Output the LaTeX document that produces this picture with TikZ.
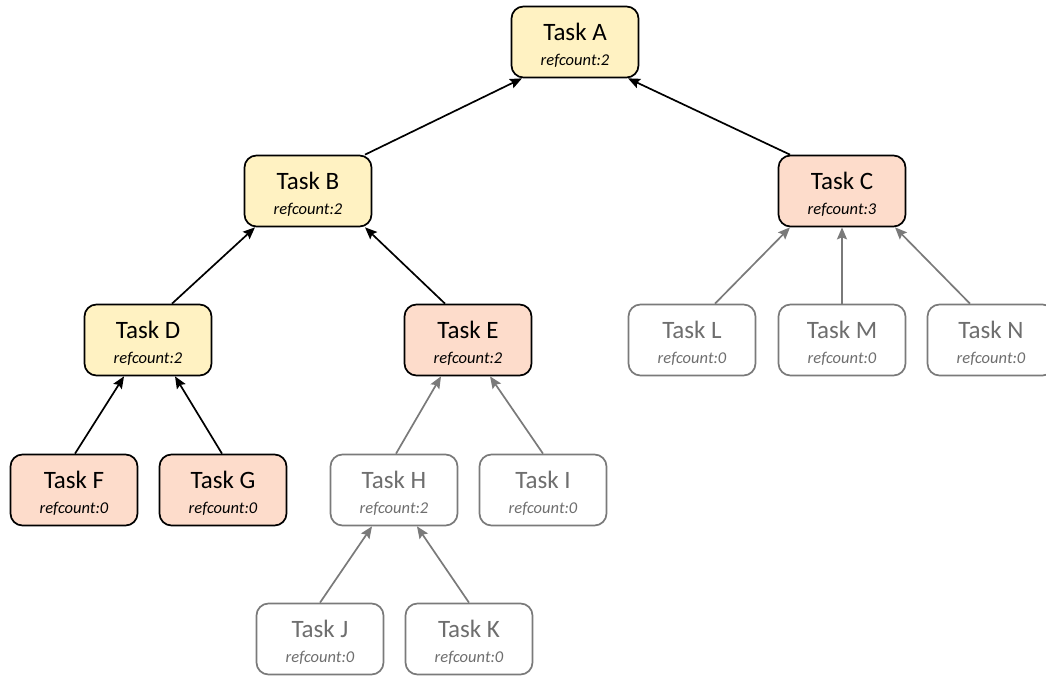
\documentclass[tikz,border=0pt]{standalone}
\usepackage{fontspec}
\setmainfont{Carlito}
\usetikzlibrary{arrows.meta,calc}
\definecolor{readyfill}{HTML}{FFF2C2}
\definecolor{waitfill}{HTML}{FDDCCB}
\definecolor{idleline}{HTML}{7A7A7A}
\definecolor{idletext}{HTML}{6E6E6E}
\tikzset{
  task/.style={rectangle, rounded corners=12pt, line width=1.7pt, draw=black,
    minimum width=127pt, minimum height=71pt, align=center, inner sep=0pt,
    font=\fontsize{25}{25}\selectfont},
  ready/.style={task, fill=readyfill},
  waiting/.style={task, fill=waitfill},
  idle/.style={task, fill=white, draw=idleline, text=idletext},
  dep/.style={line width=1.7pt, -{Stealth[length=12pt,width=10pt,inset=2pt]}},
  idledep/.style={dep, draw=idleline, fill=idleline},
}
% two-line label: task name over its reference count
\newcommand{\tasklabel}[2]{\rule{0pt}{23pt}Task #1\\{\fontsize{16.5}{25}\selectfont\itshape refcount:#2}}
\begin{document}
\begin{tikzpicture}[x=1pt,y=-1pt]
\useasboundingbox (0,0) rectangle (1046,679);
% tasks
\node[ready]   (a) at (575,42)  {\tasklabel{A}{2}};
\node[ready]   (b) at (308,191) {\tasklabel{B}{2}};
\node[waiting] (c) at (842,191) {\tasklabel{C}{3}};
\node[ready]   (d) at (148,340) {\tasklabel{D}{2}};
\node[waiting] (e) at (468,340) {\tasklabel{E}{2}};
\node[idle]    (l) at (692,340) {\tasklabel{L}{0}};
\node[idle]    (m) at (842,340) {\tasklabel{M}{0}};
\node[idle]    (n) at (991,340) {\tasklabel{N}{0}};
\node[waiting] (f) at (74,490)  {\tasklabel{F}{0}};
\node[waiting] (g) at (223,490) {\tasklabel{G}{0}};
\node[idle]    (h) at (394,490) {\tasklabel{H}{2}};
\node[idle]    (i) at (543,490) {\tasklabel{I}{0}};
\node[idle]    (j) at (320,639) {\tasklabel{J}{0}};
\node[idle]    (k) at (469,639) {\tasklabel{K}{0}};
% dependencies: child -> parent
\draw[dep] ($(b.north)+(57,0)$) -- ($(a.south)+(-53,0)$);
\draw[dep] ($(c.north)+(-52,0)$) -- ($(a.south)+(53,0)$);
\draw[dep] ($(d.north)+(24,0)$) -- ($(b.south)+(-53,0)$);
\draw[dep] ($(e.north)+(-23,0)$) -- ($(b.south)+(57,0)$);
\draw[dep] ($(f.north)+(1,0)$) -- ($(d.south)+(-24,0)$);
\draw[dep] ($(g.north)+(-1,0)$) -- ($(d.south)+(27,0)$);
\draw[idledep] ($(h.north)+(2,0)$) -- ($(e.south)+(-27,0)$);
\draw[idledep] (i.north) -- ($(e.south)+(22,0)$);
\draw[idledep] (j.north) -- ($(h.south)+(-22,0)$);
\draw[idledep] (k.north) -- ($(h.south)+(23,0)$);
\draw[idledep] ($(l.north)+(23,0)$) -- ($(c.south)+(-52,0)$);
\draw[idledep] (m.north) -- (c.south);
\draw[idledep] ($(n.north)+(-21,0)$) -- ($(c.south)+(53,0)$);
\end{tikzpicture}
\end{document}
